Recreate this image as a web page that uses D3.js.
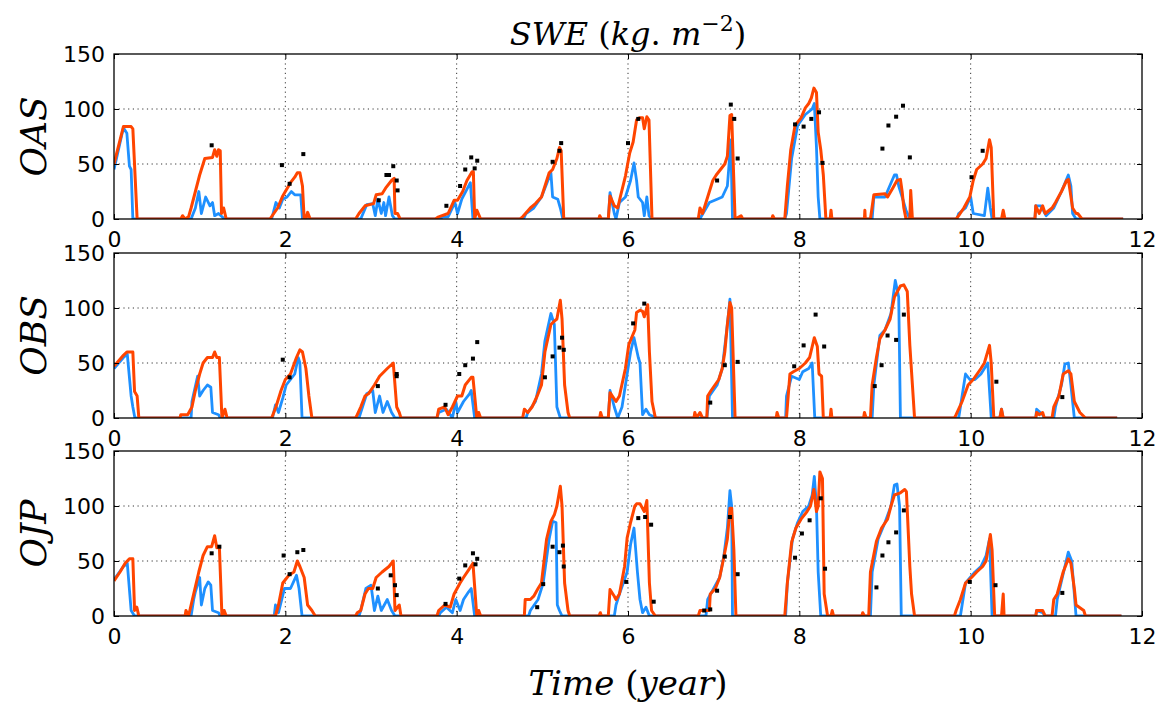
<!DOCTYPE html>
<html><head><meta charset="utf-8">
<script src="https://cdn.jsdelivr.net/npm/d3@7"></script>
<style>
html,body{margin:0;padding:0;background:#fff;}
svg{display:block;}
</style>
</head><body>
<svg id="chart" width="1165" height="704"></svg>
<script>
const panelNames = ["OAS","OBS","OJP"];
const xTicks = [0,2,4,6,8,10,12];
const yTicks = [0,50,100,150];

const oasOrange = [[0,50],[0.11,84],[0.2,84],[0.22,82],[0.27,0],
[0.78,0],[0.8,3],[0.83,0],[0.87,2],[0.9,10],[0.95,25],[1.0,40],[1.06,55],[1.15,56],[1.175,63],[1.2,57],[1.22,63],[1.24,62],[1.255,5],[1.28,10],[1.31,0],
[1.82,0],[1.91,10],[1.97,21],[2.0,25],[2.06,33],[2.11,38],[2.14,42],[2.17,42],[2.2,30],[2.22,0],[2.24,0],[2.26,6],[2.29,0],
[2.82,0],[2.86,5],[2.93,12],[3.03,14],[3.06,22],[3.13,23],[3.17,28],[3.24,35],[3.27,37],[3.28,5],[3.31,5],[3.34,0],
[3.75,0],[3.79,2],[3.9,5],[3.97,17],[4.01,17],[4.07,25],[4.12,35],[4.18,43],[4.195,43],[4.21,0],[4.235,8],[4.28,0],
[4.74,0],[4.77,2],[4.86,10],[4.92,14],[4.99,20],[5.08,42],[5.12,45],[5.17,55],[5.2,65],[5.22,62],[5.25,0],
[5.66,0],[5.67,3],[5.69,0],[5.77,0],[5.79,21],[5.84,12],[5.88,10],[5.91,20],[5.97,39],[6.02,60],[6.06,70],[6.1,90],[6.13,92],[6.17,92],[6.19,82],[6.22,93],[6.245,90],[6.28,0],
[6.82,0],[6.84,10],[6.87,5],[6.93,20],[6.99,35],[7.03,40],[7.08,45],[7.13,50],[7.16,57],[7.19,94],[7.21,95],[7.25,0],[7.32,3],[7.34,0],
[7.68,0],[7.69,3],[7.71,0],[7.83,0],[7.86,30],[7.9,63],[7.95,85],[8.02,92],[8.07,101],[8.11,105],[8.14,110],[8.17,119],[8.2,115],[8.22,79],[8.25,63],[8.28,40],[8.31,0],[8.36,0],[8.37,8],[8.38,0],
[8.76,0],[8.765,8],[8.77,0],[8.83,0],[8.87,22],[9.0,23],[9.03,20],[9.09,28],[9.14,35],[9.18,36],[9.2,25],[9.22,10],[9.245,0],[9.29,0],[9.3,26],[9.32,0],
[9.83,0],[9.86,3],[9.92,10],[9.99,20],[10.03,35],[10.07,45],[10.14,50],[10.18,55],[10.22,72],[10.24,65],[10.27,0],[10.36,0],[10.38,8],[10.4,0],
[10.75,0],[10.76,12],[10.8,5],[10.84,12],[10.87,5],[10.95,10],[10.99,15],[11.06,25],[11.12,35],[11.14,36],[11.19,10],[11.23,5],[11.25,5],[11.3,0],[11.78,0]];

const oasBlue = [[0,45],[0.11,83],[0.15,78],[0.18,48],[0.2,45],[0.22,0],
[0.9,0],[0.95,10],[0.99,25],[1.02,5],[1.07,20],[1.12,12],[1.15,15],[1.175,3],[1.22,5],[1.29,0],
[1.84,0],[1.89,15],[1.93,10],[1.97,18],[2.02,20],[2.07,25],[2.11,22],[2.18,22],[2.2,0],
[2.88,0],[2.95,13],[3.02,14],[3.05,3],[3.08,18],[3.12,5],[3.15,15],[3.17,3],[3.21,20],[3.25,3],[3.28,0],
[3.8,0],[3.84,2],[3.9,2],[3.98,15],[4.01,5],[4.06,18],[4.16,33],[4.19,0],
[4.78,0],[4.81,5],[4.9,10],[4.99,20],[5.1,42],[5.12,20],[5.18,18],[5.21,10],[5.24,0],
[5.77,0],[5.79,24],[5.84,5],[5.86,0],[5.9,15],[5.97,20],[6.03,35],[6.07,51],[6.1,35],[6.12,20],[6.17,15],[6.19,3],[6.22,20],[6.245,3],[6.28,0],
[6.84,0],[6.86,3],[6.95,15],[7.04,18],[7.1,20],[7.16,30],[7.18,50],[7.2,72],[7.22,0],
[7.83,0],[7.85,5],[7.91,55],[7.98,85],[8.07,95],[8.15,100],[8.175,105],[8.2,65],[8.22,20],[8.24,0],
[8.85,0],[8.87,20],[9.0,20],[9.11,40],[9.135,40],[9.16,30],[9.2,20],[9.245,8],[9.29,0],
[9.84,0],[9.86,5],[9.94,10],[10.0,20],[10.03,5],[10.16,3],[10.2,28],[10.23,10],[10.25,0],
[10.75,0],[10.76,12],[10.82,12],[10.88,3],[10.97,10],[11.06,25],[11.14,40],[11.17,30],[11.19,5],[11.23,0],[11.78,0]];

const oasObs = [[1.14,67],[1.96,49],[2.21,59],[2.05,32],[3.09,17],[3.18,40],[3.21,40],[3.26,48],[3.31,26],[3.3,35],[3.88,12],[4.04,30],[4.1,45],[4.17,56],[4.21,46],[4.24,53],[5.12,52],[5.22,69],[5.2,62],[6.12,91],[6.0,69],[7.2,104],[7.24,91],[7.28,55],[7.04,35],[7.95,86],[8.05,84],[8.14,91],[8.23,97],[8.27,51],[8.97,64],[9.04,85],[9.13,93],[9.21,103],[9.29,56],[10.01,38],[10.14,62]];

const obsOrange = [[0,47],[0.11,57],[0.15,60],[0.22,60],[0.24,24],[0.27,20],[0.29,0],
[0.77,0],[0.78,3],[0.86,3],[0.91,10],[0.95,25],[1.0,40],[1.04,50],[1.09,55],[1.15,55],[1.175,60],[1.2,55],[1.23,55],[1.26,0],[1.295,8],[1.32,0],
[1.84,0],[1.89,10],[1.95,25],[2.0,35],[2.06,40],[2.13,55],[2.17,62],[2.2,60],[2.24,45],[2.275,20],[2.31,0],
[2.82,0],[2.84,3],[2.88,10],[2.93,20],[2.97,22],[3.04,30],[3.1,38],[3.19,45],[3.26,50],[3.3,10],[3.33,5],[3.35,0],
[3.77,0],[3.79,8],[3.86,10],[3.9,3],[3.95,10],[4.01,20],[4.06,20],[4.1,30],[4.17,37],[4.19,37],[4.235,0],[4.257,5],[4.28,0],
[4.77,0],[4.79,8],[4.83,5],[4.88,10],[4.94,20],[4.99,30],[5.03,60],[5.1,85],[5.14,88],[5.17,90],[5.21,107],[5.23,90],[5.26,30],[5.3,5],[5.32,0],
[5.67,0],[5.68,5],[5.7,0],[5.77,0],[5.79,23],[5.86,15],[5.9,20],[5.97,45],[6.01,67],[6.08,80],[6.1,96],[6.14,98],[6.17,97],[6.19,92],[6.23,103],[6.25,60],[6.28,15],[6.32,0],
[6.77,0],[6.78,5],[6.8,0],[6.84,5],[6.87,0],[6.92,0],[6.93,20],[6.97,25],[7.06,35],[7.1,45],[7.13,60],[7.16,85],[7.19,105],[7.21,100],[7.25,0],
[7.73,0],[7.74,5],[7.76,0],[7.85,0],[7.87,20],[7.89,40],[7.93,42],[8.0,45],[8.07,50],[8.12,55],[8.175,73],[8.21,65],[8.23,40],[8.26,38],[8.28,0],[8.36,0],[8.37,8],[8.38,0],
[8.75,0],[8.76,5],[8.78,0],[8.83,0],[8.85,30],[8.9,55],[8.94,72],[9.0,80],[9.06,90],[9.11,110],[9.18,120],[9.22,121],[9.26,115],[9.29,66],[9.32,30],[9.345,0],
[9.81,0],[9.83,3],[9.9,15],[9.97,30],[10.03,35],[10.12,45],[10.16,50],[10.22,66],[10.24,50],[10.27,0],[10.34,0],[10.36,8],[10.38,0],
[10.76,0],[10.77,5],[10.8,3],[10.84,5],[10.86,0],[10.95,0],[10.97,10],[11.03,20],[11.08,40],[11.14,43],[11.17,40],[11.21,15],[11.275,5],[11.34,0],[11.71,0]];

const obsBlue = [[0,45],[0.11,55],[0.155,58],[0.2,20],[0.22,10],[0.244,0],
[0.9,0],[0.91,15],[0.976,38],[1.0,20],[1.04,25],[1.09,30],[1.13,28],[1.15,5],[1.22,3],[1.24,0],
[1.85,0],[1.885,12],[1.92,5],[1.97,18],[2.01,30],[2.06,35],[2.11,40],[2.15,55],[2.17,50],[2.195,0],
[2.86,0],[2.88,5],[2.95,22],[3.02,25],[3.05,5],[3.1,20],[3.14,5],[3.19,15],[3.24,5],[3.28,0],
[3.77,0],[3.79,5],[3.88,8],[3.95,0],[3.99,15],[4.01,5],[4.08,15],[4.15,22],[4.17,25],[4.21,0],
[4.81,0],[4.83,5],[4.92,15],[4.99,40],[5.03,70],[5.1,95],[5.14,85],[5.17,10],[5.21,0],
[5.77,0],[5.79,25],[5.84,10],[5.88,0],[5.93,10],[5.97,30],[6.03,60],[6.07,73],[6.12,55],[6.14,50],[6.17,3],[6.21,8],[6.25,3],[6.34,0],
[6.92,0],[6.95,20],[7.04,30],[7.1,45],[7.16,85],[7.19,108],[7.22,0],
[7.84,0],[7.85,20],[7.91,38],[8.0,35],[8.04,42],[8.11,45],[8.15,50],[8.18,0],
[8.85,0],[8.87,30],[8.94,75],[9.0,80],[9.07,95],[9.12,125],[9.16,110],[9.18,0],
[9.86,0],[9.88,10],[9.94,40],[9.99,35],[10.05,35],[10.12,40],[10.2,50],[10.24,0],[10.34,0],[10.36,8],[10.38,0],
[10.76,0],[10.77,8],[10.84,3],[10.86,0],[10.97,0],[10.99,10],[11.06,30],[11.1,49],[11.14,50],[11.17,30],[11.21,0],[11.71,0]];

const obsObs = [[1.97,53],[2.05,37],[3.08,29],[3.3,40],[3.3,38],[3.87,12],[4.03,40],[4.1,48],[4.19,54],[4.24,69],[5.03,37],[5.12,56],[5.2,64],[5.25,62],[5.23,73],[6.19,104],[6.06,86],[6.96,14],[7.13,48],[7.28,51],[7.94,47],[8.05,66],[8.19,94],[8.29,65],[8.88,29],[8.96,48],[9.03,75],[9.13,71],[9.22,94],[10.3,33],[11.07,19]];

const ojpOrange = [[0,32],[0.07,40],[0.13,48],[0.18,52],[0.22,52],[0.24,5],[0.266,8],[0.29,0],
[0.83,0],[0.84,5],[0.87,0],[0.93,20],[0.99,40],[1.04,55],[1.09,63],[1.14,63],[1.175,73],[1.2,62],[1.23,63],[1.26,0],[1.286,5],[1.31,0],
[1.885,0],[1.92,10],[1.97,30],[2.04,37],[2.1,40],[2.14,50],[2.17,45],[2.22,35],[2.26,10],[2.31,5],[2.35,0],
[2.82,0],[2.84,3],[2.88,5],[2.93,20],[2.97,25],[3.02,25],[3.06,35],[3.13,40],[3.21,45],[3.26,50],[3.28,5],[3.33,10],[3.35,0],
[3.77,0],[3.79,5],[3.86,10],[3.925,8],[3.97,20],[4.04,30],[4.08,35],[4.14,42],[4.19,48],[4.235,0],[4.257,5],[4.28,0],
[4.79,0],[4.8,15],[4.86,15],[4.9,18],[4.95,25],[4.99,30],[5.05,70],[5.1,86],[5.14,92],[5.17,100],[5.21,118],[5.23,100],[5.26,30],[5.3,5],[5.32,0],
[5.66,0],[5.677,3],[5.69,0],[5.77,0],[5.79,24],[5.84,18],[5.86,15],[5.9,20],[5.96,45],[5.99,71],[6.03,85],[6.08,100],[6.1,102],[6.14,102],[6.19,95],[6.22,105],[6.25,30],[6.275,5],[6.32,0],
[6.82,0],[6.84,5],[6.95,5],[6.96,20],[7.02,25],[7.07,35],[7.11,50],[7.16,70],[7.19,98],[7.21,98],[7.236,60],[7.26,0],
[7.74,0],[7.83,0],[7.86,30],[7.91,67],[7.96,80],[8.02,88],[8.09,95],[8.13,100],[8.17,115],[8.2,95],[8.22,100],[8.24,131],[8.27,125],[8.29,20],[8.33,0],[8.37,0],[8.384,5],[8.4,0],
[8.73,0],[8.74,3],[8.76,0],[8.81,0],[8.83,40],[8.9,68],[8.96,80],[9.03,88],[9.07,100],[9.11,110],[9.18,112],[9.23,115],[9.25,113],[9.29,45],[9.31,20],[9.345,0],
[9.81,0],[9.83,5],[9.88,15],[9.94,30],[10.01,35],[10.07,40],[10.14,45],[10.18,50],[10.23,74],[10.25,60],[10.28,0],[10.36,0],[10.38,20],[10.39,0],
[10.76,0],[10.77,5],[10.84,5],[10.87,0],[10.95,0],[10.97,15],[11.01,20],[11.08,40],[11.14,52],[11.17,48],[11.21,25],[11.23,10],[11.32,5],[11.34,0],[11.76,0]];

const ojpBlue = [[0,33],[0.11,45],[0.155,48],[0.2,5],[0.24,0],
[0.9,0],[0.93,15],[0.95,22],[1.0,35],[1.02,10],[1.06,25],[1.1,31],[1.13,28],[1.15,5],[1.22,3],[1.24,0],
[1.87,0],[1.885,10],[1.92,3],[1.99,25],[2.06,25],[2.13,37],[2.16,25],[2.195,0],
[2.86,0],[2.88,5],[2.94,25],[3.0,28],[3.04,5],[3.08,18],[3.12,5],[3.19,15],[3.24,5],[3.28,0],
[3.79,0],[3.81,3],[3.88,8],[3.95,3],[3.99,15],[4.04,5],[4.08,15],[4.14,22],[4.17,25],[4.21,0],
[4.84,0],[4.86,5],[4.95,15],[5.01,30],[5.08,70],[5.12,86],[5.16,85],[5.175,10],[5.2,5],[5.23,0],
[5.84,0],[5.86,10],[5.9,20],[5.99,40],[6.03,65],[6.07,80],[6.11,40],[6.14,15],[6.17,3],[6.21,8],[6.25,0],
[6.91,0],[6.93,15],[7.0,25],[7.07,35],[7.12,55],[7.16,80],[7.19,114],[7.21,100],[7.22,0],
[7.84,0],[7.86,30],[7.92,70],[7.98,85],[8.04,95],[8.11,100],[8.15,110],[8.175,127],[8.2,100],[8.22,40],[8.25,0],
[8.83,0],[8.85,40],[8.92,70],[9.0,85],[9.07,100],[9.11,119],[9.14,120],[9.17,100],[9.19,0],
[9.88,0],[9.9,10],[9.94,30],[10.05,40],[10.12,45],[10.18,55],[10.22,70],[10.25,0],
[10.76,0],[10.77,5],[10.84,3],[10.87,0],[10.99,0],[11.01,15],[11.1,45],[11.14,58],[11.18,50],[11.23,0],[11.76,0]];

const ojpObs = [[1.14,57],[1.23,63],[1.98,55],[2.14,58],[2.21,60],[2.05,38],[3.08,25],[3.23,37],[3.28,28],[3.3,19],[3.87,11],[4.03,34],[4.1,46],[4.19,57],[4.24,52],[4.22,47],[4.94,8],[5.01,29],[5.12,63],[5.2,58],[5.24,64],[5.25,45],[5.98,31],[6.12,89],[6.2,90],[6.27,83],[6.3,13],[6.89,5],[6.96,6],[7.04,23],[7.13,54],[7.19,90],[7.28,38],[7.95,53],[8.03,75],[8.12,87],[8.25,107],[8.3,43],[8.9,26],[8.97,55],[9.04,67],[9.13,76],[9.22,96],[9.99,31],[10.29,28],[11.07,21]];

const panels = [
  {name: panelNames[0], blue: oasBlue, orange: oasOrange, obs: oasObs},
  {name: panelNames[1], blue: obsBlue, orange: obsOrange, obs: obsObs},
  {name: panelNames[2], blue: ojpBlue, orange: ojpOrange, obs: ojpObs}
];

const svg = d3.select("#chart");
const left = 114, right = 1142, tops = [54, 253, 451], ph = 165;
const blueC = "#1E90FF", orangeC = "#FF4500";
const x = d3.scaleLinear().domain([0,12]).range([left,right]);
const tickFont = "'DejaVu Sans', sans-serif";
const mathFont = "'DejaVu Serif', serif";

panels.forEach((p, i) => {
  const top = tops[i];
  const y = d3.scaleLinear().domain([0,150]).range([top+ph, top]);
  const g = svg.append("g");
  const clipId = "clip"+i;
  svg.append("clipPath").attr("id", clipId).append("rect")
    .attr("x", left).attr("y", top).attr("width", right-left).attr("height", ph);

  const grid = g.append("g");
  grid.selectAll("line.gx").data(xTicks.filter(d => d>0 && d<12)).join("line")
    .attr("x1", d=>x(d)).attr("x2", d=>x(d)).attr("y1", top).attr("y2", top+ph)
    .attr("stroke", "#000").attr("stroke-width", 0.8).attr("stroke-dasharray", "1.2,3.5");
  grid.selectAll("line.gy").data(yTicks.filter(d => d>0 && d<150)).join("line")
    .attr("x1", left).attr("x2", right).attr("y1", d=>y(d)).attr("y2", d=>y(d))
    .attr("stroke", "#000").attr("stroke-width", 0.8).attr("stroke-dasharray", "1.2,3.5");

  const line = d3.line().x(d=>x(d[0])).y(d=>y(d[1]));
  const lg = g.append("g").attr("clip-path", `url(#${clipId})`);
  lg.append("path").datum(p.blue).attr("d", line).attr("fill","none")
    .attr("stroke", blueC).attr("stroke-width", 2.8).attr("stroke-linejoin","round");
  lg.append("path").datum(p.orange).attr("d", line).attr("fill","none")
    .attr("stroke", orangeC).attr("stroke-width", 3).attr("stroke-linejoin","round");
  lg.selectAll("rect.pt").data(p.obs).join("rect")
    .attr("x", d=>x(d[0])-2).attr("y", d=>y(d[1])-2).attr("width", 4).attr("height", 4)
    .attr("fill", "#000");

  const ab = d3.axisBottom(x).tickValues(xTicks).tickSizeInner(-5).tickSizeOuter(0).tickPadding(12).tickFormat(d3.format("d"));
  const at = d3.axisTop(x).tickValues(xTicks).tickSizeInner(-5).tickSizeOuter(0).tickFormat("");
  const al = d3.axisLeft(y).tickValues(yTicks).tickSizeInner(-5).tickSizeOuter(0).tickPadding(9).tickFormat(d3.format("d"));
  const ar = d3.axisRight(y).tickValues(yTicks).tickSizeInner(-5).tickSizeOuter(0).tickFormat("");
  [[ab, `translate(0,${top+ph})`],[at, `translate(0,${top})`],[al, `translate(${left},0)`],[ar, `translate(${right},0)`]].forEach(([ax, tr]) => {
    const a = g.append("g").attr("transform", tr).call(ax);
    a.select(".domain").remove();
    a.selectAll("line").attr("stroke","#000").attr("stroke-width",1);
    a.selectAll("text").attr("font-family", tickFont).attr("font-size", 22).attr("fill","#000");
  });

  g.append("rect").attr("x", left).attr("y", top).attr("width", right-left).attr("height", ph)
    .attr("fill","none").attr("stroke","#000").attr("stroke-width",1.3);

  svg.append("text")
    .attr("transform", `translate(46,${top+ph/2}) rotate(-90)`)
    .attr("text-anchor","middle")
    .attr("font-family", mathFont).attr("font-style","italic").attr("font-size", 36)
    .text(p.name);
});

const title = svg.append("text").attr("x", 628).attr("y", 45).attr("text-anchor","middle")
  .attr("font-family", mathFont).attr("font-size", 32).attr("fill","#000");
title.append("tspan").attr("font-style","italic").text("SWE");
title.append("tspan").text(" (");
title.append("tspan").attr("font-style","italic").text("kg");
title.append("tspan").text(". ");
title.append("tspan").attr("font-style","italic").text("m");
title.append("tspan").attr("font-size", 22).attr("dy", -14).text("−2");
title.append("tspan").attr("dy", 14).text(")");

const xl = svg.append("text").attr("x", 628).attr("y", 695).attr("text-anchor","middle")
  .attr("font-family", mathFont).attr("font-size", 34).attr("fill","#000");
xl.append("tspan").attr("font-style","italic").text("Time");
xl.append("tspan").text(" (");
xl.append("tspan").attr("font-style","italic").text("year");
xl.append("tspan").text(")");
</script>
</body></html>
